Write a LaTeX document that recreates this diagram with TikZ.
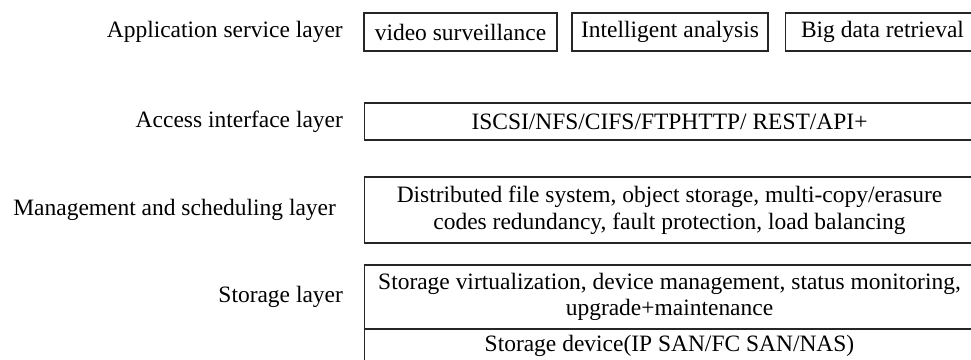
\documentclass[tikz,border=0pt]{standalone}
\usepackage{fontspec}
\setmainfont{Liberation Serif}
\usetikzlibrary{positioning}

\tikzset{
  layertext/.style={font=\fontsize{17.6}{20}\selectfont, inner sep=0pt},
  layerbox/.style={draw=black!85, line width=0.8pt, inner sep=0pt, outer sep=0pt,
    align=center, font=\fontsize{17.6}{20}\selectfont},
}

\begin{document}
\begin{tikzpicture}[x=0.75pt, y=-0.75pt]
\useasboundingbox (0,0) rectangle (971,360);

\node[layerbox, minimum width=144.75pt, minimum height=28.5pt] (video) at (460.5, 32) {video surveillance};
\node[layerbox, minimum width=147pt, minimum height=28.5pt] (analysis) at (670, 32) {Intelligent analysis};
\node[layerbox, minimum width=146pt, minimum height=28.5pt] (retrieval) at (882.5, 32) {Big data retrieval};

\node[layerbox, minimum width=458pt, minimum height=27.75pt] (access) at (669.5, 121.5) {ISCSI/NFS/CIFS/FTPHTTP/ REST/API+};

\node[layerbox, minimum width=458pt, minimum height=49.5pt] (manage) at (669.5, 210)
  {Distributed file system, object storage, multi-copy/erasure\\codes redundancy, fault protection, load balancing};

\node[layerbox, minimum width=458pt, minimum height=48pt] (virt) at (669.5, 297)
  {Storage virtualization, device management, status monitoring,\\upgrade+maintenance};
\node[layerbox, minimum width=458pt, minimum height=25pt, below=0pt of virt] (device) {Storage device(IP SAN/FC SAN/NAS)};

\node[layertext, anchor=east, left=15.75pt of video] (app) {Application service layer};
\node[layertext, anchor=east, left=15.75pt of access] (acc) {Access interface layer};
\node[layertext, anchor=east, left=21pt of manage] (man) {Management and scheduling layer};
\node[layertext, anchor=east, left=15.75pt of virt] (sto) {Storage layer};

\end{tikzpicture}
\end{document}
